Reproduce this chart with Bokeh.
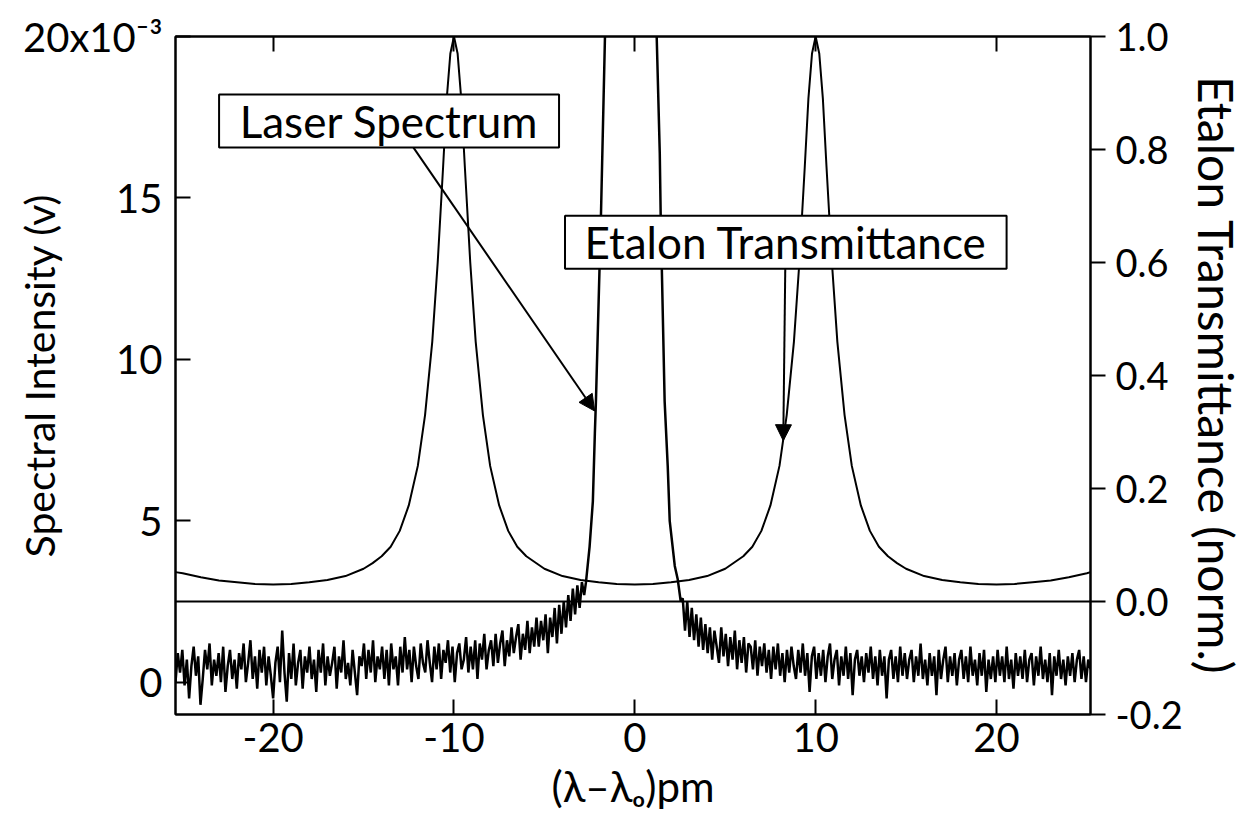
import numpy as np
from bokeh.plotting import figure
from bokeh.models import (Range1d, LinearAxis, FixedTicker, Span, BoxAnnotation,
                          Label, Arrow, NormalHead, NumeralTickFormatter)
from bokeh.embed import file_html
from bokeh.resources import INLINE

# ---------------- data ----------------
x_ticks = [-20, -10, 0, 10, 20]
x_tick_labels = {-20: "-20", -10: "-10", 0: "0", 10: "10", 20: "20"}
left_ticks = [0, 5, 10, 15, 20]
left_tick_labels = {0: "0", 5: "5", 10: "10", 15: "15", 20: "20x10⁻³"}
right_ticks = [-0.2, 0.0, 0.2, 0.4, 0.6, 0.8, 1.0]

# Etalon transmittance (normalised, right axis)
etalon_x = [-25.4, -25, -24, -23, -22, -21, -20, -19, -18, -17, -16, -15, -14.5, -14,
            -13.5, -13, -12.5, -12, -11.6, -11.2, -10.9, -10.6, -10.4, -10.2, -10.0,
            -9.8, -9.6, -9.4, -9.1, -8.8, -8.4, -8, -7.5, -7, -6.5, -6, -5, -4, -3, -2,
            -1, 0, 1, 2, 3, 4, 5, 6, 6.5, 7, 7.5, 8, 8.4, 8.8, 9.1, 9.4, 9.6, 9.8, 10.0,
            10.2, 10.4, 10.6, 10.9, 11.2, 11.6, 12, 12.5, 13, 13.5, 14, 14.5, 15, 16, 17,
            18, 19, 20, 21, 22, 23, 24, 25, 25.2]
etalon_y = [0.052, 0.050, 0.043, 0.037, 0.034, 0.031, 0.030, 0.031, 0.034, 0.038, 0.045,
            0.058, 0.068, 0.080, 0.097, 0.125, 0.170, 0.240, 0.330, 0.460, 0.600, 0.770,
            0.890, 0.970, 1.000, 0.970, 0.890, 0.770, 0.600, 0.460, 0.330, 0.240, 0.170,
            0.125, 0.097, 0.080, 0.058, 0.045, 0.038, 0.034, 0.031, 0.030, 0.031, 0.034,
            0.038, 0.045, 0.058, 0.080, 0.097, 0.125, 0.170, 0.240, 0.330, 0.460, 0.600,
            0.770, 0.890, 0.970, 1.000, 0.970, 0.890, 0.770, 0.600, 0.460, 0.330, 0.240,
            0.170, 0.125, 0.097, 0.080, 0.068, 0.058, 0.045, 0.038, 0.034, 0.031, 0.030,
            0.031, 0.034, 0.037, 0.043, 0.050, 0.052]

# Laser spectrum (x1e-3 V, left axis): left wing noise, central peak, right wing noise
laser_left_y = [
    0.0, 0.9, 0.3, 1.0, -0.1, 0.7, -0.5, 0.5, 1.1, 0.2,
    0.8, -0.7, 0.1, 1.0, 0.4, 1.2, -0.1, 0.7, 0.2, 0.9,
    0.0, 1.1, -0.3, 0.5, 1.0, 0.1, 0.7, -0.2, 0.9, 0.4,
    1.2, 0.0, 0.6, 1.3, 0.1, 0.8, -0.2, 1.0, 0.3, 1.1,
    -0.1, 0.8, 0.2, -0.5, 0.6, 1.1, 0.0, 1.6, 0.3, -0.6,
    0.9, 0.1, 1.2, -0.1, 0.6, 1.0, -0.2, 0.8, 0.3, 1.1,
    0.1, 0.7, -0.3, 1.0, 0.3, 1.2, -0.1, 0.8, 0.2, 0.6,
    1.1, -0.2, 0.8, 0.3, 1.3, 0.1, 0.6, -0.1, 1.0, 0.3,
    -0.4, 0.8, 0.5, 1.2, 0.1, 1.0, 0.3, 1.3, 0.0, 0.8,
    0.4, 1.1, 0.1, 1.0, -0.1, 1.2, 0.4, 0.8, -0.1, 1.1,
    0.3, 1.4, 0.4, 1.0, 0.0, 1.1, 0.5, 0.1, 1.2, 0.6,
    0.3, 1.3, 0.6, 0.0, 1.1, 0.4, 1.2, 0.1, 1.0, 0.6,
    1.3, 0.3, 1.1, 0.0, 0.9, 1.2, 0.4, 0.7, 1.4, 0.3,
    1.1, 0.4, 1.3, 0.1, 1.2, 0.7, 1.5, 0.4, 1.0, 1.3,
    0.5, 1.5, 0.6, 1.2, 1.6, 0.5, 1.3, 0.8, 1.7, 0.9,
    1.4, 1.8, 0.7, 1.5, 1.0, 1.9, 0.9, 1.7, 1.1, 2.0,
    1.1, 1.9, 1.3, 2.1, 0.9, 2.0, 1.4, 2.3, 1.2, 2.4,
    1.5, 2.5, 1.7, 2.7, 1.9, 2.9, 2.1, 3.0, 2.3, 3.1, 2.7]
laser_left_range = (-25.4, -2.8)

laser_peak_x = [-2.7, -2.5, -2.32, -2.21, -2.15, -1.87, -1.65, -1.3, -0.8, -0.2, 0.4,
                0.9, 1.21, 1.38, 1.43, 1.65, 1.82, 1.93, 2.21, 2.37, 2.54]
laser_peak_y = [3.1, 4.2, 5.6, 7.7, 8.7, 14.5, 20.0, 25.0, 29.0, 30.0, 28.0,
                24.0, 20.0, 16.4, 14.5, 8.7, 6.7, 5.0, 3.6, 3.2, 2.5]

laser_right_y = [
    2.6, 1.6, 2.5, 1.4, 2.3, 1.3, 2.1, 1.1, 2.0, 1.0,
    1.8, 0.9, 1.7, 0.7, 1.6, 1.1, 0.6, 1.7, 0.8, 1.5,
    0.5, 1.4, 0.7, 1.6, 0.4, 1.3, 0.6, 1.4, 0.3, 1.2,
    1.1, 0.4, 1.3, 0.2, 1.1, 0.5, 1.2, 0.3, 1.0, 0.1,
    1.1, 0.4, 1.2, 0.2, 0.9, 0.0, 1.0, 0.3, 1.1, 0.5,
    0.1, 1.0, 0.3, 1.2, 0.2, 0.9, -0.3, 0.8, 1.1, 0.1,
    0.9, 0.2, 1.0, 0.0, 0.8, 1.2, 0.1, 0.7, 1.0, -0.1,
    0.8, 0.2, 1.1, 0.1, 0.9, -0.4, 0.7, 1.0, 0.2, 0.8,
    0.0, 0.9, 0.3, 1.1, 0.1, 0.8, -0.1, 1.0, 0.2, 0.8,
    -0.5, 0.7, 1.0, 0.1, 0.8, 0.0, 1.1, 0.2, 0.9, 0.1,
    0.7, 1.0, 0.0, 0.8, 0.2, 1.2, 0.1, 0.7, -0.1, 0.9,
    0.2, 0.8, -0.4, 1.0, 0.1, 0.7, 1.1, 0.0, 0.8, 0.2,
    0.9, -0.1, 0.7, 1.0, 0.1, 0.8, 0.0, 1.1, 0.2, 0.7,
    -0.1, 0.9, 0.2, 1.0, -0.3, 0.7, 0.1, 0.8, 0.0, 1.0,
    0.2, 0.8, 0.0, 1.1, 0.1, 0.7, -0.2, 0.9, 0.2, 0.8,
    0.1, 1.0, 0.0, 0.7, 0.9, -0.1, 0.8, 0.2, 1.1, 0.1,
    0.7, 0.0, 0.9, -0.4, 0.8, 0.2, 1.0, 0.1, 0.7, -0.1,
    0.8, 0.2, 0.9, 0.0, 0.7, 1.0, 0.1, 0.8, 0.0, 0.7, 0.4]
laser_right_range = (2.65, 25.2)

# ---------------- figure ----------------
FONT = "Lato"
p = figure(width=1247, height=831, output_backend="svg", toolbar_location=None,
           x_range=Range1d(-25.4, 25.2), y_range=Range1d(-1.0, 20.0),
           min_border_left=175, min_border_right=154, min_border_top=36,
           min_border_bottom=117)
p.extra_y_ranges = {"et": Range1d(-0.2, 1.0)}
p.xgrid.visible = False
p.ygrid.visible = False
p.outline_line_color = "black"
p.outline_line_width = 2
p.outline_line_alpha = 1.0
p.background_fill_color = "white"
p.border_fill_color = "white"

xa = p.xaxis[0]
xa.ticker = FixedTicker(ticks=x_ticks)
xa.major_label_overrides = x_tick_labels
xa.major_tick_in = 15
xa.major_tick_out = 0
xa.minor_tick_line_color = None
xa.axis_line_width = 2
xa.major_tick_line_width = 2
xa.major_label_text_font = FONT
xa.major_label_text_font_size = "40px"
xa.major_label_text_color = "black"
xa.major_label_standoff = 8
xa.axis_label = "(λ–λₒ)pm"
xa.axis_label_text_font = FONT
xa.axis_label_text_font_style = "normal"
xa.axis_label_text_font_size = "42px"
xa.axis_label_text_color = "black"
xa.axis_label_standoff = 6

ya = p.yaxis[0]
ya.ticker = FixedTicker(ticks=left_ticks)
ya.major_label_overrides = left_tick_labels
ya.major_tick_in = 15
ya.major_tick_out = 0
ya.minor_tick_line_color = None
ya.axis_line_width = 2
ya.major_tick_line_width = 2
ya.major_label_text_font = FONT
ya.major_label_text_font_size = "40px"
ya.major_label_text_color = "black"
ya.major_label_standoff = 13
ya.axis_label = "Spectral Intensity (v)"
ya.axis_label_text_font = FONT
ya.axis_label_text_font_style = "normal"
ya.axis_label_text_font_size = "41px"
ya.axis_label_text_color = "black"
ya.axis_label_standoff = -44

top = LinearAxis(ticker=FixedTicker(ticks=x_ticks), major_tick_in=15, major_tick_out=0,
                 minor_tick_line_color=None, axis_line_width=2, major_tick_line_width=2,
                 major_label_text_font_size="0px", major_label_text_color=None)
p.add_layout(top, "above")

ra = LinearAxis(y_range_name="et", ticker=FixedTicker(ticks=right_ticks),
                formatter=NumeralTickFormatter(format="0.0"),
                major_tick_in=0, major_tick_out=15, minor_tick_line_color=None,
                axis_line_width=2, major_tick_line_width=2,
                major_label_text_font=FONT, major_label_text_font_size="38px",
                major_label_text_color="black", major_label_standoff=10,
                axis_label="Etalon Transmittance (norm.)", axis_label_text_font=FONT,
                axis_label_text_font_style="normal", axis_label_text_font_size="48px",
                axis_label_text_color="black", axis_label_standoff=2)
p.add_layout(ra, "right")

# ---------------- glyphs ----------------
lx = np.concatenate([np.linspace(*laser_left_range, len(laser_left_y)),
                     np.array(laser_peak_x),
                     np.linspace(*laser_right_range, len(laser_right_y))])
ly = np.concatenate([np.array(laser_left_y), np.array(laser_peak_y),
                     np.array(laser_right_y)])

p.line(etalon_x, etalon_y, y_range_name="et", line_color="black", line_width=2)
p.line(lx, ly, line_color="black", line_width=2.5)
p.add_layout(Span(location=0.0, dimension="width", y_range_name="et",
                  line_color="black", line_width=2))

# ---------------- annotations ----------------
p.add_layout(BoxAnnotation(left=-22.99, right=-4.19, bottom=16.56, top=18.20,
                           fill_color="white", fill_alpha=1.0, line_color="black",
                           line_width=2, line_alpha=1.0))
p.add_layout(Label(x=-13.59, y=17.38, text="Laser Spectrum", text_align="center",
                   text_baseline="middle", text_font=FONT, text_font_size="44px",
                   text_color="black"))
p.add_layout(BoxAnnotation(left=-3.86, right=20.56, bottom=12.81, top=14.45,
                           fill_color="white", fill_alpha=1.0, line_color="black",
                           line_width=2, line_alpha=1.0))
p.add_layout(Label(x=8.35, y=13.63, text="Etalon Transmittance", text_align="center",
                   text_baseline="middle", text_font=FONT, text_font_size="44px",
                   text_color="black"))

p.add_layout(Arrow(end=NormalHead(size=16, fill_color="black", line_color="black"),
                   x_start=-12.24, y_start=16.56, x_end=-2.22, y_end=8.4,
                   line_color="black", line_width=2))
p.add_layout(Arrow(end=NormalHead(size=16, fill_color="black", line_color="black"),
                   x_start=8.32, y_start=12.81, x_end=8.21, y_end=7.48,
                   line_color="black", line_width=2))

open("out.html", "w").write(file_html(p, INLINE))
